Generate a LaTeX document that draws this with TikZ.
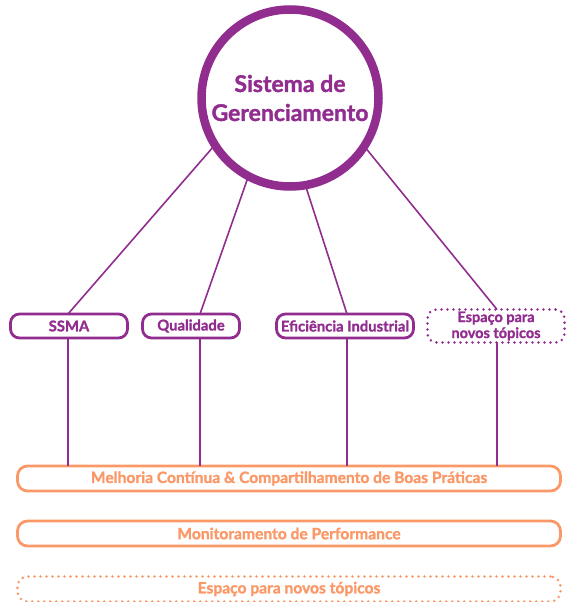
\documentclass[tikz,border=0pt]{standalone}
\usepackage{fontspec}
\setmainfont{Lato}[BoldFeatures={FakeBold=1.5}]
\usetikzlibrary{positioning,calc}
\definecolor{roxo}{RGB}{145,45,143}
\definecolor{laranja}{RGB}{250,152,104}
\begin{document}
\begin{tikzpicture}[x=1pt,y=-1pt,every node/.style={outer sep=0pt,font=\bfseries}]
\tikzstyle{topico}=[draw=roxo,text=roxo,line width=2.8pt,rounded corners=9pt,minimum height=24pt,inner sep=1pt,font=\fontsize{14.8}{16}\selectfont\bfseries]
\tikzstyle{faixa}=[draw=laranja,text=laranja,line width=2.8pt,rounded corners=10pt,minimum width=543pt,minimum height=25pt,font=\fontsize{15.6}{16}\selectfont\bfseries]
\tikzstyle{pontos}=[dash pattern=on 0pt off 6pt,line cap=round]
\tikzstyle{ligacao}=[draw=roxo,line width=1.6pt]

\useasboundingbox (0,0) rectangle (566,602);

\node (sg) [circle,draw=roxo,text=roxo,line width=8.5pt,minimum size=177pt,align=center,font=\fontsize{23}{29}\selectfont\bfseries] at (290,98) {Sistema de\\Gerenciamento};

\node (ssma) [topico,minimum width=117pt] at (69,326) {SSMA};
\node (qual) [topico,minimum width=97pt] at (191,326) {Qualidade};
\node (efic) [topico,minimum width=137pt] at (345,326) {Eficiência Industrial};
\node (novo) [topico,pontos,minimum width=137pt,minimum height=33pt,align=center,font=\fontsize{14.5}{16}\selectfont\bfseries] at (496,326) {Espaço para\\novos tópicos};

\node (melhoria) [faixa] at (289,478.5) {Melhoria Contínua \& Compartilhamento de Boas Práticas};
\node (monit) [faixa] at (289,533.5) {Monitoramento de Performance};
\node (espaco) [faixa,pontos] at (289,589) {Espaço para novos tópicos};

% do circulo para os topicos
\draw [ligacao] (sg.212) -- ([xshift=-1pt]ssma.north);
\draw [ligacao] (sg.242) -- ([xshift=9pt]qual.north);
\draw [ligacao] (sg.280) -- ([xshift=2pt]efic.north);
\draw [ligacao] (sg.327) -- ([xshift=1pt]novo.north);

% dos topicos para a faixa
\draw [ligacao] ([xshift=-1pt]ssma.south) -- ([xshift=-1pt]ssma.south |- melhoria.north);
\draw [ligacao] ([xshift=9pt]qual.south) -- ([xshift=9pt]qual.south |- melhoria.north);
\draw [ligacao] ([xshift=2pt]efic.south) -- ([xshift=2pt]efic.south |- melhoria.north);
\draw [ligacao] ([xshift=1pt]novo.south) -- ([xshift=1pt]novo.south |- melhoria.north);
\end{tikzpicture}
\end{document}
